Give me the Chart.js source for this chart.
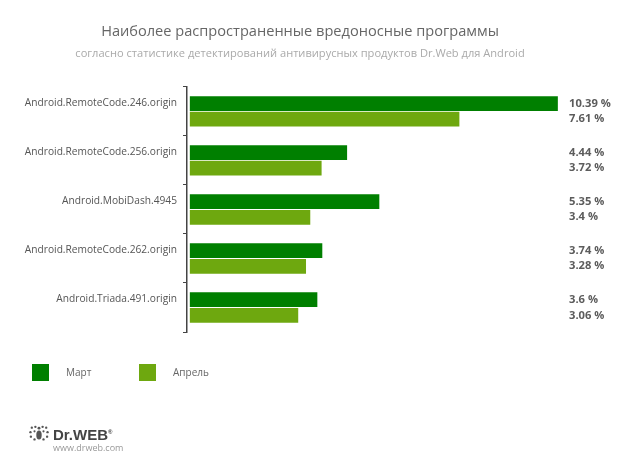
<!DOCTYPE html>
<html>
<head>
<meta charset="utf-8">
<style>
  html, body { margin: 0; padding: 0; background: #fff; }
  #wrap { position: relative; width: 620px; height: 467px; }
  #logo { position: absolute; left: 29px; top: 425px; }
</style>
<script src="https://cdn.jsdelivr.net/npm/chart.js@4"></script>
</head>
<body>
<div id="wrap">
  <canvas id="malwareChart" width="620" height="467"></canvas>
  <!-- значок логотипа -->
  <svg id="logo" width="20" height="18" viewBox="0 0 22 20">
    <g fill="#555">
      <ellipse cx="11" cy="11" rx="3" ry="5"/>
      <circle cx="3" cy="3" r="1.3"/><circle cx="7" cy="2" r="1.3"/><circle cx="15" cy="2" r="1.3"/><circle cx="19" cy="3" r="1.3"/>
      <circle cx="1.5" cy="8" r="1.3"/><circle cx="20.5" cy="8" r="1.3"/>
      <circle cx="2" cy="13" r="1.3"/><circle cx="20" cy="13" r="1.3"/>
      <circle cx="6" cy="16" r="1.3"/><circle cx="16" cy="16" r="1.3"/>
      <circle cx="6" cy="7" r="1.2"/><circle cx="16" cy="7" r="1.2"/>
      <circle cx="11" cy="3.5" r="1.6"/>
    </g>
  </svg>
</div>
<script>
const FONT = "'Open Sans', 'Noto Sans', sans-serif";

const categories = [
  "Android.RemoteCode.246.origin",
  "Android.RemoteCode.256.origin",
  "Android.MobiDash.4945",
  "Android.RemoteCode.262.origin",
  "Android.Triada.491.origin"
];
const march = [10.39, 4.44, 5.35, 3.74, 3.6];
const april = [7.61, 3.72, 3.4, 3.28, 3.06];
const seriesNames = ["Март", "Апрель"];
const seriesColors = ["#007f00", "#6ea80f"];

/* подписи значений справа и легенда снизу */
const valueLabels = {
  id: "valueLabels",
  afterDatasetsDraw(chart) {
    const ctx = chart.ctx;
    ctx.save();
    ctx.font = "bold 11.2px " + FONT;
    ctx.fillStyle = "#5c5c5c";
    ctx.textAlign = "left";
    ctx.textBaseline = "middle";
    chart.data.datasets.forEach(function (ds, i) {
      chart.getDatasetMeta(i).data.forEach(function (bar, j) {
        ctx.fillText(ds.data[j] + " %", 569, bar.y);
      });
    });
    ctx.restore();
  }
};

const bottomLegend = {
  id: "bottomLegend",
  afterDraw(chart) {
    const ctx = chart.ctx;
    const xs = [32, 139];
    ctx.save();
    ctx.textBaseline = "middle";
    chart.data.datasets.forEach(function (ds, i) {
      ctx.fillStyle = ds.backgroundColor;
      ctx.fillRect(xs[i], 364, 17, 17);
      ctx.fillStyle = "#666";
      ctx.font = "10px " + FONT;
      ctx.fillText(ds.label, xs[i] + 34, 373);
    });
    // логотип
    ctx.fillStyle = "#444";
    ctx.font = "bold 15px 'Liberation Sans', sans-serif";
    ctx.fillText("Dr.WEB", 53, 436);
    ctx.font = "bold 6px 'Liberation Sans', sans-serif";
    ctx.fillText("®", 108, 432);
    ctx.fillStyle = "#999";
    ctx.font = "9px " + FONT;
    ctx.fillText("www.drweb.com", 53, 448);
    ctx.restore();
  }
};

const ctxMalware = document.getElementById("malwareChart");
const chartMalware = new Chart(ctxMalware, {
  type: "bar",
  data: {
    labels: categories,
    datasets: [
      { label: seriesNames[0], data: march, backgroundColor: seriesColors[0], categoryPercentage: 0.64, barPercentage: 0.94 },
      { label: seriesNames[1], data: april, backgroundColor: seriesColors[1], categoryPercentage: 0.64, barPercentage: 0.94 }
    ]
  },
  options: {
    indexAxis: "y",
    responsive: false,
    animation: false,
    layout: { padding: { left: 0, right: 20, top: 0, bottom: 135 } },
    scales: {
      x: { display: false, min: -0.08, max: 11.58 },
      y: {
        afterFit(scale) { scale.width = 187; },
        grid: { drawOnChartArea: false, tickLength: 4, color: "#444", lineWidth: 1 },
        border: { color: "#444", width: 1.5 },
        ticks: { color: "#555", padding: 6, labelOffset: -8, font: { family: FONT, size: 10.2 } }
      }
    },
    plugins: {
      legend: { display: false },
      tooltip: { enabled: false },
      title: {
        display: true,
        text: "Наиболее распространенные вредоносные программы",
        color: "#666",
        font: { family: FONT, size: 14.6, weight: "normal" },
        padding: { top: 23, bottom: 7 }
      },
      subtitle: {
        display: true,
        text: "согласно статистике детектирований антивирусных продуктов Dr.Web для Android",
        color: "#aaa",
        font: { family: FONT, size: 11.1, weight: "normal" },
        padding: { top: 0, bottom: 26 }
      }
    }
  },
  plugins: [valueLabels, bottomLegend]
});
</script>
</body>
</html>
